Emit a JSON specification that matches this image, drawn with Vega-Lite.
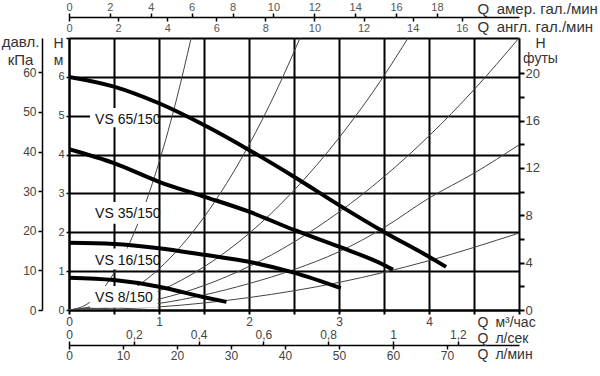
{
  "$schema": "https://vega.github.io/schema/vega-lite/v6.json",
  "width": 450,
  "height": 272,
  "autosize": "none",
  "padding": {"left": 69, "top": 38, "right": 81, "bottom": 66},
  "background": "white",
  "config": {"view": {"stroke": null}, "font": "Liberation Sans"},
  "datasets": {
    "system": [
      {"curve": "A", "q": 0, "h": 0}, {"curve": "A", "q": 0.2, "h": 0.15}, {"curve": "A", "q": 0.4, "h": 0.61}, {"curve": "A", "q": 0.6, "h": 1.37}, {"curve": "A", "q": 0.8, "h": 2.43}, {"curve": "A", "q": 1.0, "h": 3.8}, {"curve": "A", "q": 1.2, "h": 5.47}, {"curve": "A", "q": 1.357, "h": 7.0},
      {"curve": "B", "q": 0, "h": 0}, {"curve": "B", "q": 0.5, "h": 0.27}, {"curve": "B", "q": 1.0, "h": 1.06}, {"curve": "B", "q": 1.5, "h": 2.39}, {"curve": "B", "q": 2.0, "h": 4.25}, {"curve": "B", "q": 2.3, "h": 5.62}, {"curve": "B", "q": 2.567, "h": 7.0},
      {"curve": "C", "q": 0, "h": 0}, {"curve": "C", "q": 1.0, "h": 0.49}, {"curve": "C", "q": 1.5, "h": 1.11}, {"curve": "C", "q": 2.0, "h": 1.97}, {"curve": "C", "q": 2.5, "h": 3.08}, {"curve": "C", "q": 3.0, "h": 4.43}, {"curve": "C", "q": 3.5, "h": 6.03}, {"curve": "C", "q": 3.767, "h": 7.0},
      {"curve": "D", "q": 0, "h": 0}, {"curve": "D", "q": 1.0, "h": 0.28}, {"curve": "D", "q": 2.0, "h": 1.12}, {"curve": "D", "q": 3.0, "h": 2.52}, {"curve": "D", "q": 4.0, "h": 4.48}, {"curve": "D", "q": 4.5, "h": 5.67}, {"curve": "D", "q": 5.0, "h": 7.0},
      {"curve": "E", "q": 0, "h": 0}, {"curve": "E", "q": 1.0, "h": 0.17}, {"curve": "E", "q": 2.0, "h": 0.68}, {"curve": "E", "q": 2.5, "h": 1.04}, {"curve": "E", "q": 3.0, "h": 1.5}, {"curve": "E", "q": 3.5, "h": 2.12}, {"curve": "E", "q": 4.0, "h": 2.88}, {"curve": "E", "q": 4.5, "h": 3.52}, {"curve": "E", "q": 5.0, "h": 4.25},
      {"curve": "F", "q": 0, "h": 0}, {"curve": "F", "q": 1.0, "h": 0.08}, {"curve": "F", "q": 2.0, "h": 0.32}, {"curve": "F", "q": 3.0, "h": 0.71}, {"curve": "F", "q": 4.0, "h": 1.27}, {"curve": "F", "q": 5.0, "h": 1.98}
    ],
    "pumps": [
      {"pump": "VS 65/150", "q": 0, "h": 6.0}, {"pump": "VS 65/150", "q": 0.5, "h": 5.75}, {"pump": "VS 65/150", "q": 1.0, "h": 5.32}, {"pump": "VS 65/150", "q": 1.5, "h": 4.76}, {"pump": "VS 65/150", "q": 2.0, "h": 4.12}, {"pump": "VS 65/150", "q": 2.5, "h": 3.43}, {"pump": "VS 65/150", "q": 3.0, "h": 2.7}, {"pump": "VS 65/150", "q": 3.5, "h": 2.01}, {"pump": "VS 65/150", "q": 4.0, "h": 1.37}, {"pump": "VS 65/150", "q": 4.19, "h": 1.11},
      {"pump": "VS 35/150", "q": 0, "h": 4.14}, {"pump": "VS 35/150", "q": 0.5, "h": 3.78}, {"pump": "VS 35/150", "q": 1.0, "h": 3.3}, {"pump": "VS 35/150", "q": 1.5, "h": 2.92}, {"pump": "VS 35/150", "q": 2.0, "h": 2.53}, {"pump": "VS 35/150", "q": 2.5, "h": 2.06}, {"pump": "VS 35/150", "q": 3.0, "h": 1.63}, {"pump": "VS 35/150", "q": 3.5, "h": 1.16}, {"pump": "VS 35/150", "q": 3.6, "h": 1.04},
      {"pump": "VS 16/150", "q": 0, "h": 1.73}, {"pump": "VS 16/150", "q": 0.5, "h": 1.7}, {"pump": "VS 16/150", "q": 1.0, "h": 1.59}, {"pump": "VS 16/150", "q": 1.5, "h": 1.42}, {"pump": "VS 16/150", "q": 2.0, "h": 1.24}, {"pump": "VS 16/150", "q": 2.5, "h": 0.96}, {"pump": "VS 16/150", "q": 3.02, "h": 0.56},
      {"pump": "VS 8/150", "q": 0, "h": 0.83}, {"pump": "VS 8/150", "q": 0.5, "h": 0.77}, {"pump": "VS 8/150", "q": 1.0, "h": 0.6}, {"pump": "VS 8/150", "q": 1.5, "h": 0.33}, {"pump": "VS 8/150", "q": 1.75, "h": 0.21}
    ],
    "boxes": [
      {"pump": "VS 65/150", "q": 0.233, "q2": 0.985, "h": 4.7, "h2": 5.2},
      {"pump": "VS 35/150", "q": 0.233, "q2": 0.985, "h": 2.22, "h2": 2.78},
      {"pump": "VS 16/150", "q": 0.233, "q2": 0.985, "h": 1.04, "h2": 1.58},
      {"pump": "VS 8/150", "q": 0.233, "q2": 0.985, "h": 0.06, "h2": 0.62}
    ],
    "labels": [
      {"pump": "VS 65/150", "q": 0.29, "h": 4.89},
      {"pump": "VS 35/150", "q": 0.29, "h": 2.48},
      {"pump": "VS 16/150", "q": 0.29, "h": 1.25},
      {"pump": "VS 8/150", "q": 0.29, "h": 0.3}
    ],
    "axisstub": [{"v": 0}]
  },
  "layer": [
    {
      "encoding": {
        "x": {
          "field": "q", "type": "quantitative",
          "scale": {"domain": [0, 5], "nice": false, "zero": false},
          "axis": {
            "orient": "bottom", "zindex": 0,
            "values": [0, 0.5, 1, 1.5, 2, 2.5, 3, 3.5, 4, 4.5, 5],
            "labelExpr": "datum.value % 1 == 0 && datum.value < 5 ? '' + datum.value : ''",
            "grid": true, "gridColor": "#000", "gridWidth": 2, "gridOpacity": 1,
            "domain": true, "domainColor": "#000", "domainWidth": 2,
            "ticks": true, "tickColor": "#000", "tickWidth": 2, "tickSize": 4,
            "labelFontSize": 12, "labelColor": "#444", "labelPadding": 2, "labelFlush": false, "labelOverlap": false,
            "title": "Q\u2002м³/час", "titleX": 408, "titleY": 12, "titleAlign": "left", "titleBaseline": "middle",
            "titleAngle": 0, "titleFontSize": 14, "titleFontWeight": "normal", "titleColor": "#333"
          }
        },
        "y": {
          "field": "h", "type": "quantitative",
          "scale": {"domain": [0, 7], "nice": false, "zero": false},
          "axis": {
            "orient": "left", "zindex": 0,
            "values": [0, 1, 2, 3, 4, 5, 6, 7],
            "labelExpr": "datum.value < 7 ? '' + datum.value : ''",
            "grid": true, "gridColor": "#000", "gridWidth": 2, "gridOpacity": 1,
            "domain": true, "domainColor": "#000", "domainWidth": 2,
            "ticks": true, "tickColor": "#000", "tickWidth": 1.5, "tickSize": 3,
            "labelFontSize": 11, "labelColor": "#444", "labelPadding": 2, "labelOverlap": false,
            "title": ["H", "м"], "titleX": -11, "titleY": 9, "titleAngle": 0, "titleAlign": "center",
            "titleBaseline": "alphabetic", "titleLineHeight": 17, "titleFontSize": 14,
            "titleFontWeight": "normal", "titleColor": "#333"
          }
        }
      },
      "layer": [
        {
          "data": {"name": "system"},
          "mark": {"type": "line", "color": "#444", "strokeWidth": 1, "interpolate": "monotone", "clip": true},
          "encoding": {"detail": {"field": "curve"}}
        },
        {
          "data": {"name": "boxes"},
          "mark": {"type": "rect", "color": "white", "opacity": 1},
          "encoding": {"x2": {"field": "q2"}, "y2": {"field": "h2"}}
        },
        {
          "data": {"name": "pumps"},
          "mark": {"type": "line", "color": "#000", "strokeWidth": 4, "interpolate": "monotone", "strokeCap": "butt", "clip": true},
          "encoding": {"detail": {"field": "pump"}}
        },
        {
          "data": {"name": "labels"},
          "mark": {"type": "text", "align": "left", "baseline": "middle", "fontSize": 14,
                   "font": "Liberation Sans", "color": "#111"},
          "encoding": {"text": {"field": "pump"}}
        }
      ]
    },
    {
      "data": {"name": "axisstub"},
      "mark": {"type": "rule", "opacity": 0},
      "encoding": {
        "y": {
          "field": "v", "type": "quantitative",
          "scale": {"domain": [0, 68.65], "nice": false, "zero": false},
          "axis": {
            "orient": "left", "offset": 27, "values": [0, 10, 20, 30, 40, 50, 60], "grid": false,
            "domain": true, "domainColor": "#000", "domainWidth": 1.5,
            "ticks": true, "tickColor": "#000", "tickWidth": 1.5, "tickSize": 4,
            "labelFontSize": 12, "labelColor": "#444", "labelPadding": 2, "labelOverlap": false,
            "title": ["давл.", "кПа"], "titleX": -22, "titleY": 8.5, "titleAngle": 0, "titleAlign": "center",
            "titleBaseline": "alphabetic", "titleLineHeight": 17.5, "titleFontSize": 15,
            "titleFontWeight": "normal", "titleColor": "#333"
          }
        }
      }
    },
    {
      "data": {"name": "axisstub"},
      "mark": {"type": "rule", "opacity": 0},
      "encoding": {
        "y": {
          "field": "v", "type": "quantitative",
          "scale": {"domain": [0, 22.966], "nice": false, "zero": false},
          "axis": {
            "orient": "right", "values": [0, 2, 4, 6, 8, 10, 12, 14, 16, 18, 20], "grid": false,
            "labelExpr": "datum.value % 4 == 0 ? '' + datum.value : ''",
            "domain": false,
            "ticks": true, "tickColor": "#000", "tickWidth": 2, "tickSize": 5,
            "labelFontSize": 13, "labelColor": "#444", "labelPadding": 1, "labelOverlap": false,
            "title": ["H", "футы"], "titleX": 21, "titleY": 9, "titleAngle": 0, "titleAlign": "center",
            "titleBaseline": "alphabetic", "titleLineHeight": 15, "titleFontSize": 14,
            "titleFontWeight": "normal", "titleColor": "#333"
          }
        }
      }
    },
    {
      "data": {"name": "axisstub"},
      "mark": {"type": "rule", "opacity": 0},
      "encoding": {
        "x": {
          "field": "v", "type": "quantitative",
          "scale": {"domain": [0, 22.015], "nice": false, "zero": false},
          "axis": {
            "orient": "top", "offset": 21, "values": [0, 2, 4, 6, 8, 10, 12, 14, 16, 18], "grid": false,
            "domain": true, "domainColor": "#000", "domainWidth": 1.5,
            "ticks": true, "tickColor": "#000", "tickWidth": 1.5, "tickSize": 4,
            "labelFontSize": 11, "labelColor": "#555", "labelPadding": 1, "labelFlush": false, "labelOverlap": false,
            "title": "Q\u2002амер. гал./мин", "titleX": 408, "titleY": -9, "titleAlign": "left", "titleBaseline": "middle",
            "titleAngle": 0, "titleFontSize": 15, "titleFontWeight": "normal", "titleColor": "#333"
          }
        }
      }
    },
    {
      "data": {"name": "axisstub"},
      "mark": {"type": "rule", "opacity": 0},
      "encoding": {
        "x": {
          "field": "v", "type": "quantitative",
          "scale": {"domain": [0, 18.331], "nice": false, "zero": false},
          "axis": {
            "orient": "bottom", "offset": -293, "values": [0, 2, 4, 6, 8, 10, 12, 14, 16], "grid": false,
            "domain": false,
            "ticks": true, "tickColor": "#000", "tickWidth": 1.5, "tickSize": 4,
            "labelFontSize": 11, "labelColor": "#555", "labelPadding": 1, "labelFlush": false, "labelOverlap": false,
            "title": "Q\u2002англ. гал./мин", "titleX": 408, "titleY": 9, "titleAlign": "left", "titleBaseline": "middle",
            "titleAngle": 0, "titleFontSize": 15, "titleFontWeight": "normal", "titleColor": "#333"
          }
        }
      }
    },
    {
      "data": {"name": "axisstub"},
      "mark": {"type": "rule", "opacity": 0},
      "encoding": {
        "x": {
          "field": "v", "type": "quantitative",
          "scale": {"domain": [0, 1.38889], "nice": false, "zero": false},
          "axis": {
            "orient": "top", "offset": -307, "values": [0, 0.2, 0.4, 0.6, 0.8, 1, 1.2], "grid": false,
            "labelExpr": "datum.value == 0 ? '0' : datum.value == 1 ? '1' : replace(format(datum.value, '.1f'), '.', ',')",
            "domain": true, "domainColor": "#000", "domainWidth": 1.5,
            "ticks": true, "tickColor": "#000", "tickWidth": 1.5, "tickSize": 4,
            "labelFontSize": 12, "labelColor": "#444", "labelPadding": 0, "labelFlush": false, "labelOverlap": false,
            "title": "Q\u2002л/сек", "titleX": 408, "titleY": -7, "titleAlign": "left", "titleBaseline": "middle",
            "titleAngle": 0, "titleFontSize": 14, "titleFontWeight": "normal", "titleColor": "#333"
          }
        }
      }
    },
    {
      "data": {"name": "axisstub"},
      "mark": {"type": "rule", "opacity": 0},
      "encoding": {
        "x": {
          "field": "v", "type": "quantitative",
          "scale": {"domain": [0, 83.333], "nice": false, "zero": false},
          "axis": {
            "orient": "bottom", "offset": 35, "values": [0, 10, 20, 30, 40, 50, 60, 70], "grid": false,
            "domain": false,
            "ticks": true, "tickColor": "#000", "tickWidth": 1.5, "tickSize": 4,
            "labelFontSize": 12, "labelColor": "#444", "labelPadding": 1, "labelFlush": false, "labelOverlap": false,
            "title": "Q\u2002л/мин", "titleX": 408, "titleY": 9, "titleAlign": "left", "titleBaseline": "middle",
            "titleAngle": 0, "titleFontSize": 14, "titleFontWeight": "normal", "titleColor": "#333"
          }
        }
      }
    }
  ],
  "resolve": {"scale": {"x": "independent", "y": "independent"}, "axis": {"x": "independent", "y": "independent"}}
}
